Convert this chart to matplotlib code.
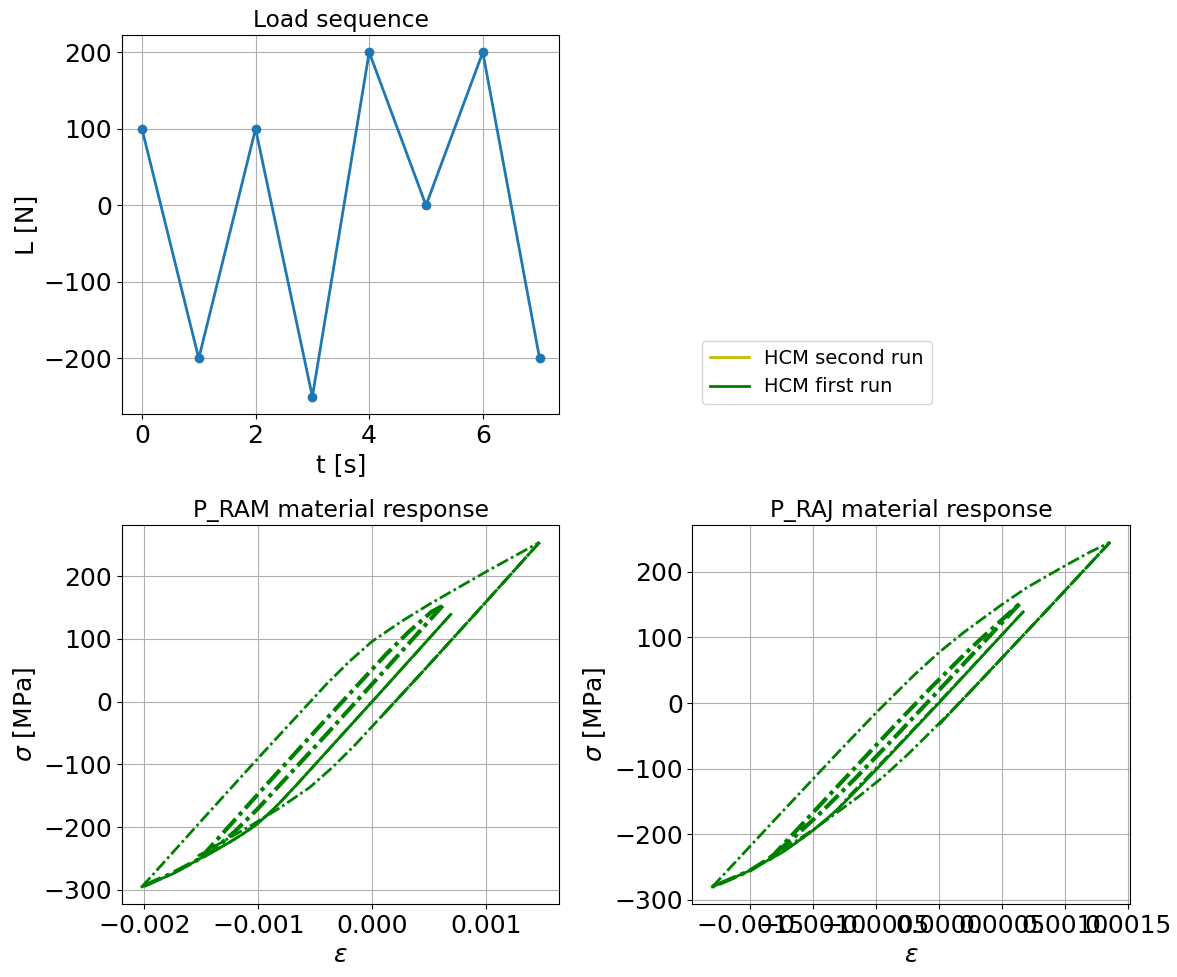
import matplotlib
matplotlib.use("Agg")
import matplotlib.pyplot as plt
from matplotlib.lines import Line2D
from matplotlib.ticker import MultipleLocator

plt.rcParams['font.size'] = 14

# load sequence
t = [0, 1, 2, 3, 4, 5, 6, 7]
load = [100, -200, 100, -250, 200, 0, 200, -200]

# P_RAM: primary path (solid) and hysteresis branches (dash-dot)
ram_prim_eps = [0.00069, 0.0, -0.00051, -0.00066, -0.00081, -0.00091, -0.00101, -0.001135,
                -0.00126, -0.001385, -0.00151, -0.001635, -0.001745, -0.00202]
ram_prim_sig = [139, 0, -102, -132, -161, -179, -195, -211, -225, -238, -250, -263, -274, -295]

ram_b1_eps = [0.00069, 0.00017, -0.00033, -0.00069, -0.00081, -0.00091, -0.00101, -0.001135,
              -0.00126, -0.001385, -0.0015]
ram_b1_sig = [139, 34, -66, -138, -161, -179, -195, -211, -225, -238, -249]
ram_b2_eps = [-0.0015, -0.00098, -0.00048, -0.00018, 0.00012, 0.00032, 0.00052, 0.00062]
ram_b2_sig = [-248, -143, -43, 16, 75, 111, 143, 153]
ram_b3_eps = [0.00062, 0.0001, -0.0004, -0.0007, -0.001, -0.0012, -0.0014, -0.0015, -0.00175, -0.00202]
ram_b3_sig = [153, 48, -52, -111, -170, -206, -238, -249, -273, -295]
ram_b4_eps = [-0.00202, -0.0015, -0.001, -0.0007, -0.0004, -0.0002, 0.0, 0.00025, 0.0005,
              0.00075, 0.001, 0.00125, 0.00147]
ram_b4_sig = [-295, -190, -90, -31, 28, 64, 96, 127, 155, 181, 207, 232, 254]
ram_b5_eps = [0.00147, 0.00095, 0.00045, 0.00008]
ram_b5_sig = [254, 149, 49, -24]
ram_b6_eps = [0.00008, 0.00045, 0.00095, 0.00147]
ram_b6_sig = [-24, 49, 149, 254]
ram_b7_eps = [0.00147, 0.00095, 0.00045, 0.00015, -0.00015, -0.00035, -0.00055, -0.0008,
              -0.00105, -0.0013, -0.00153]
ram_b7_sig = [254, 149, 49, -10, -69, -105, -137, -168, -196, -222, -246]

# P_RAJ
raj_prim_eps = [0.00067, 0.0, -0.0005, -0.00065, -0.0008, -0.0009, -0.001, -0.00115, -0.00125,
                -0.0014, -0.0015, -0.00158, -0.0018]
raj_prim_sig = [139, 0, -102, -132, -161, -178, -194, -215, -228, -244, -255, -262, -280]

raj_b1_eps = [0.00067, 0.00017, -0.00033, -0.0007, -0.0008, -0.0009, -0.001, -0.00115, -0.00125, -0.00135]
raj_b1_sig = [139, 36, -66, -139, -161, -178, -194, -215, -228, -239]
raj_b2_eps = [-0.00135, -0.00085, -0.00035, -0.00005, 0.00025, 0.00045, 0.00064]
raj_b2_sig = [-239, -136, -34, 26, 83, 118, 151]
raj_b3_eps = [0.00064, 0.00014, -0.00036, -0.00066, -0.00096, -0.00116, -0.00135, -0.0015, -0.00158, -0.0018]
raj_b3_sig = [151, 48, -54, -114, -171, -206, -237, -255, -262, -280]
raj_b4_eps = [-0.0018, -0.0013, -0.0008, -0.0005, -0.0002, 0.0, 0.0002, 0.0005, 0.0007, 0.001,
              0.0012, 0.00136]
raj_b4_sig = [-280, -177, -75, -15, 42, 77, 108, 150, 176, 209, 230, 245]
raj_b5_eps = [0.00136, 0.00086, 0.00036, 0.0]
raj_b5_sig = [245, 142, 40, -33]
raj_b6_eps = [0.0, 0.00036, 0.00086, 0.00136]
raj_b6_sig = [-33, 40, 142, 245]
raj_b7_eps = [0.00136, 0.00086, 0.00036, 0.00006, -0.00024, -0.00044, -0.00064, -0.00094,
              -0.00114, -0.00134]
raj_b7_sig = [245, 142, 40, -20, -77, -112, -143, -185, -211, -234]

ram_branches = [(ram_b1_eps, ram_b1_sig), (ram_b2_eps, ram_b2_sig), (ram_b3_eps, ram_b3_sig),
                (ram_b4_eps, ram_b4_sig), (ram_b5_eps, ram_b5_sig), (ram_b6_eps, ram_b6_sig),
                (ram_b7_eps, ram_b7_sig)]
raj_branches = [(raj_b1_eps, raj_b1_sig), (raj_b2_eps, raj_b2_sig), (raj_b3_eps, raj_b3_sig),
                (raj_b4_eps, raj_b4_sig), (raj_b5_eps, raj_b5_sig), (raj_b6_eps, raj_b6_sig),
                (raj_b7_eps, raj_b7_sig)]

dashdot = (0, (4.5, 1.2, 1.0, 1.2))

fig, axes = plt.subplots(2, 2, figsize=(11.77, 9.77), dpi=100)
fig.subplots_adjust(left=0.1037, right=0.960, top=0.9642, bottom=0.0747, wspace=0.304, hspace=0.293)

ax = axes[0, 0]
ax.plot(t, load, "o-", lw=2)
ax.grid()
ax.set_xlabel("t [s]", fontsize=18)
ax.set_ylabel("L [N]", fontsize=18)
ax.set_title("Load sequence")
ax.tick_params(labelsize=18)

axes[0, 1].axis("off")
handles = [Line2D([], [], color="y", lw=2), Line2D([], [], color="g", lw=2)]
axes[0, 1].legend(handles, ["HCM second run", "HCM first run"], loc="lower left")

for ax, prim_eps, prim_sig, branches, name in [
        (axes[1, 0], ram_prim_eps, ram_prim_sig, ram_branches, "P_RAM"),
        (axes[1, 1], raj_prim_eps, raj_prim_sig, raj_branches, "P_RAJ")]:
    ax.plot(prim_eps, prim_sig, "g-", lw=2)
    for i, (e, s) in enumerate(branches):
        w = 3 if i in (1, 2) else 2
        ax.plot(e, s, color="g", linestyle=dashdot, lw=w)
    ax.grid()
    ax.set_xlabel(r"$\varepsilon$", fontsize=18)
    ax.set_ylabel(r"$\sigma$ [MPa]", fontsize=18)
    ax.set_title(name + " material response")
    ax.tick_params(labelsize=18)

axes[1, 1].xaxis.set_major_locator(MultipleLocator(0.0005))

fig.savefig("out.png", dpi=100)
